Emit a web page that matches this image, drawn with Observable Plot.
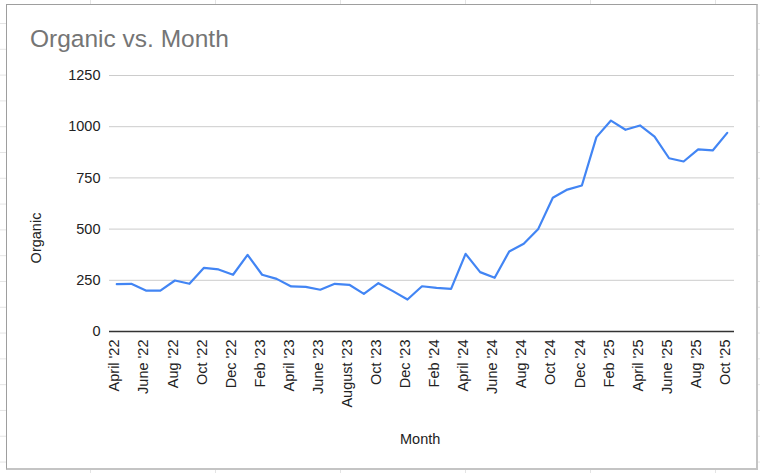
<!DOCTYPE html>
<html>
<head>
<meta charset="utf-8">
<script src="https://cdn.jsdelivr.net/npm/d3@7"></script>
<script src="https://cdn.jsdelivr.net/npm/@observablehq/plot@0.6"></script>
<style>
  html, body { margin: 0; padding: 0; }
  body {
    width: 760px; height: 473px; overflow: hidden; position: relative;
    background-color: #fff;
    background-image: linear-gradient(#e4e4e4 1px, transparent 1px),
                      linear-gradient(90deg, #e4e4e4 1px, transparent 1px);
    background-size: 125px 25.8px;
    background-position: 90px 23px;
    font-family: "Liberation Sans", Arial, sans-serif;
  }
  #box {
    position: absolute; left: 6px; top: 4px; width: 749px; height: 463px;
    border: 1px solid #9e9e9e; border-right: 2px solid #c4c4c4; border-bottom: 2px solid #c4c4c4;
    background: #fff;
  }
  #chart { position: absolute; left: 0; top: 0; width: 760px; height: 473px; }
  .lbl { position: absolute; white-space: nowrap; color: #222; font-size: 14.5px; line-height: 14.5px; }
  #title { position: absolute; left: 30px; top: 27px; font-size: 24.5px; line-height: 24.5px; color: #757575; white-space: nowrap; }
</style>
</head>
<body>
<div id="box"></div>
<div id="chart"></div>
<div id="title">Organic vs. Month</div>
<div class="lbl" id="xlabel" style="left:400px; top:432px;">Month</div>
<div class="lbl" id="ylabel" style="left:36px; top:238px; transform: translate(-50%,-50%) rotate(-90deg);">Organic</div>
<script>
// Months (April '22 .. Oct '25)
const months = [
  "April '22","May '22","June '22","July '22","Aug '22","Sep '22","Oct '22","Nov '22","Dec '22",
  "Jan '23","Feb '23","Mar '23","April '23","May '23","June '23","July '23","August '23","Sep '23","Oct '23","Nov '23","Dec '23",
  "Jan '24","Feb '24","Mar '24","April '24","May '24","June '24","July '24","Aug '24","Sep '24","Oct '24","Nov '24","Dec '24",
  "Jan '25","Feb '25","Mar '25","April '25","May '25","June '25","July '25","Aug '25","Sep '25","Oct '25"
];
// Organic values
const organic = [
  231, 233, 200, 200, 249, 233, 311, 303, 277,
  374, 277, 257, 220, 218, 204, 233, 228, 184, 236, 197, 156,
  221, 213, 208, 379, 290, 262, 391, 428, 501, 653, 693, 713,
  949, 1030, 985, 1006, 952, 846, 830, 889, 884, 970
];
// Tick labels shown on the x axis (every other month)
const xTicks = [
  "April '22","June '22","Aug '22","Oct '22","Dec '22","Feb '23","April '23","June '23","August '23","Oct '23","Dec '23",
  "Feb '24","April '24","June '24","Aug '24","Oct '24","Dec '24","Feb '25","April '25","June '25","Aug '25","Oct '25"
];
const yTicks = [0, 250, 500, 750, 1000, 1250];

const data = months.map((m, i) => ({i, month: m, organic: organic[i]}));
const tickData = xTicks.map(label => ({i: months.indexOf(label), label}));

const chart = Plot.plot({
  width: 760,
  height: 473,
  marginLeft: 109,
  marginRight: 26,
  marginTop: 75,
  marginBottom: 142,
  style: {
    background: "transparent",
    fontFamily: "'Liberation Sans', Arial, sans-serif",
    fontSize: "14.5px",
    color: "#222",
    overflow: "visible"
  },
  x: {type: "linear", domain: [-0.5, months.length - 0.5], label: null, axis: null},
  y: {domain: [0, 1250], label: null},
  marks: [
    Plot.gridY(yTicks.filter(d => d > 0), {stroke: "#cccccc", strokeOpacity: 1, strokeWidth: 1}),
    Plot.axisY(yTicks, {tickSize: 0, tickPadding: 9, label: null, tickFormat: d => String(d)}),
    Plot.text(tickData, {x: "i", y: () => 0, text: "label", rotate: -90, textAnchor: "end", dx: -2, dy: 8, fill: "#222"}),
    Plot.ruleY([0], {stroke: "#333333", strokeWidth: 1.5}),
    Plot.line(data, {x: "i", y: "organic", stroke: "#4285f4", strokeWidth: 2.2, strokeLinejoin: "round"})
  ]
});
document.getElementById("chart").appendChild(chart);
</script>
</body>
</html>
